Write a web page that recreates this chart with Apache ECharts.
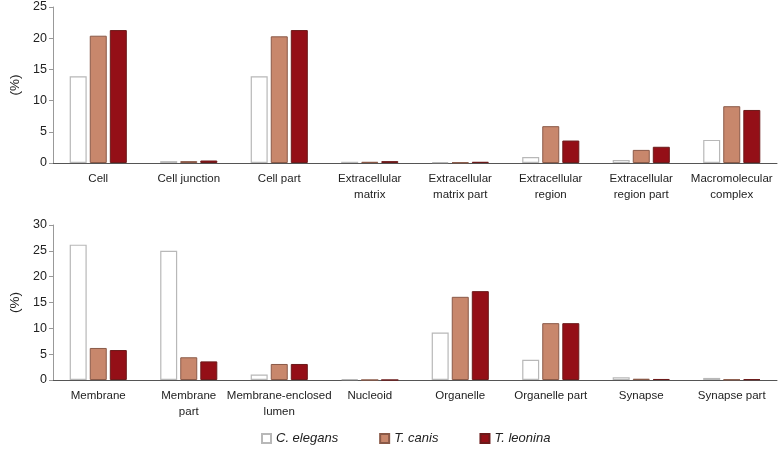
<!DOCTYPE html>
<html>
<head>
<meta charset="utf-8">
<script src="https://cdn.jsdelivr.net/npm/echarts@6/dist/echarts.min.js"></script>
<style>html,body{margin:0;padding:0;background:#fff}#c{width:780px;height:452px}</style>
</head>
<body>
<div id="c"></div>
<script>
const seriesNames = ['C. elegans', 'T. canis', 'T. leonina'];

const topCategories = ['Cell', 'Cell junction', 'Cell part', 'Extracellular\nmatrix', 'Extracellular\nmatrix part', 'Extracellular\nregion', 'Extracellular\nregion part', 'Macromolecular\ncomplex'];
const topElegans = [13.9, 0.3, 13.9, 0.2, 0.15, 0.95, 0.5, 3.7];
const topCanis   = [20.4, 0.3, 20.3, 0.2, 0.1, 5.9, 2.1, 9.1];
const topLeonina = [21.3, 0.4, 21.3, 0.3, 0.2, 3.6, 2.6, 8.5];
const topTicks = [0, 5, 10, 15, 20, 25];

const botCategories = ['Membrane', 'Membrane\npart', 'Membrane-enclosed\nlumen', 'Nucleoid', 'Organelle', 'Organelle part', 'Synapse', 'Synapse part'];
const botElegans = [26.2, 25.0, 1.05, 0.15, 9.2, 3.9, 0.55, 0.4];
const botCanis   = [6.2, 4.4, 3.1, 0, 16.1, 11.0, 0.25, 0.1];
const botLeonina = [5.8, 3.6, 3.1, 0, 17.2, 11.0, 0.2, 0.15];
const botTicks = [0, 5, 10, 15, 20, 25, 30];

const styles = [
  { color: '#ffffff', borderColor: '#b8b8b8', borderWidth: 1.2 },
  { color: '#c8876c', borderColor: '#8a5a48', borderWidth: 1 },
  { color: '#940f17', borderColor: '#6b1a1a', borderWidth: 1 }
];

const font = 'Liberation Sans, Arial, sans-serif';

function xAx(cats, gi) {
  return {
    type: 'category', gridIndex: gi, data: cats,
    axisLine: { lineStyle: { color: '#555', width: 1 } },
    axisTick: { show: false },
    axisLabel: { interval: 0, color: '#222', fontSize: 11.5, fontFamily: font, margin: 8, lineHeight: 16 }
  };
}
function yAx(ticks, gi) {
  return {
    type: 'value', gridIndex: gi, min: ticks[0], max: ticks[ticks.length - 1], interval: ticks[1] - ticks[0],
    name: '(%)', nameLocation: 'middle', nameGap: 29, nameRotate: 90,
    nameTextStyle: { color: '#222', fontSize: 13.5, fontFamily: font },
    axisLine: { show: true, lineStyle: { color: '#999' } },
    axisTick: { show: true, length: 4, lineStyle: { color: '#999' } },
    splitLine: { show: false },
    axisLabel: { color: '#222', fontSize: 12.5, fontFamily: font, margin: 6 }
  };
}
function bar(name, data, gi, st) {
  return {
    name: name, type: 'bar', xAxisIndex: gi, yAxisIndex: gi, data: data,
    barWidth: 17, barGap: '18%', itemStyle: st, emphasis: { disabled: true }, animation: false
  };
}

const chart = echarts.init(document.getElementById('c'));
chart.setOption({
  animation: false,
  grid: [
    { left: 53, right: 3, top: 7, height: 156 },
    { left: 53, right: 3, top: 225, height: 155 }
  ],
  legend: {
    data: seriesNames, bottom: 2, left: 256, icon: 'rect', itemWidth: 9, itemHeight: 9, itemGap: 41,
    textStyle: { fontStyle: 'italic', fontSize: 13, color: '#222', fontFamily: font }
  },
  xAxis: [xAx(topCategories, 0), xAx(botCategories, 1)],
  yAxis: [yAx(topTicks, 0), yAx(botTicks, 1)],
  series: [
    bar(seriesNames[0], topElegans, 0, styles[0]),
    bar(seriesNames[1], topCanis, 0, styles[1]),
    bar(seriesNames[2], topLeonina, 0, styles[2]),
    bar(seriesNames[0], botElegans, 1, styles[0]),
    bar(seriesNames[1], botCanis, 1, styles[1]),
    bar(seriesNames[2], botLeonina, 1, styles[2])
  ]
});
</script>
</body>
</html>
